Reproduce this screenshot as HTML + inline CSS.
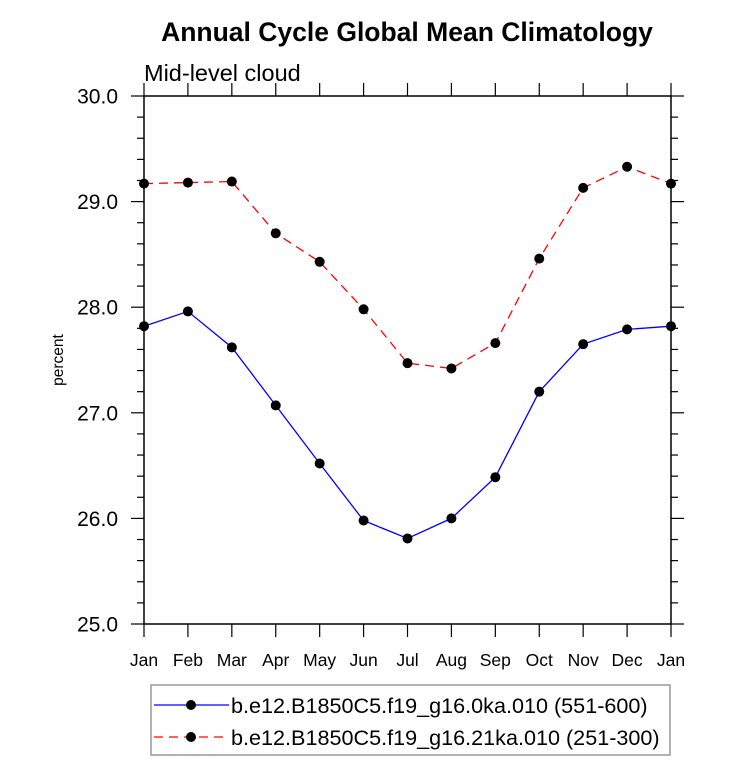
<!DOCTYPE html>
<html><head><meta charset="utf-8"><style>
body{margin:0;background:#fff;}
svg text{font-family:"Liberation Sans",Arial,sans-serif;fill:#000;}
</style></head><body>
<svg id="c" width="733" height="761"></svg>
<script>
const months=["Jan","Feb","Mar","Apr","May","Jun","Jul","Aug","Sep","Oct","Nov","Dec","Jan"];
const blueVals=[27.82,27.96,27.62,27.07,26.52,25.98,25.81,26.00,26.39,27.20,27.65,27.79,27.82];
const redVals=[29.17,29.18,29.19,28.70,28.43,27.98,27.47,27.42,27.66,28.46,29.13,29.33,29.17];
const yTicks=[25,26,27,28,29,30];
const yTickLabels=["25.0","26.0","27.0","28.0","29.0","30.0"];
const names=["b.e12.B1850C5.f19_g16.0ka.010 (551-600)","b.e12.B1850C5.f19_g16.21ka.010 (251-300)"];
const L=144,R=671,T=96,B=624,ymin=25,ymax=30;
const xs=i=>L+(R-L)*i/(months.length-1);
const ys=v=>B-(B-T)*(v-ymin)/(ymax-ymin);
const svg=document.getElementById('c');const NS="http://www.w3.org/2000/svg";
function mk(t,a,p){const e=document.createElementNS(NS,t);for(const k in a)e.setAttribute(k,a[k]);(p||svg).appendChild(e);return e;}
let e;
e=mk('text',{x:407,y:41,'text-anchor':'middle','font-size':26.5,'font-weight':'bold'});e.textContent="Annual Cycle Global Mean Climatology";


e=mk('text',{x:144,y:81,'font-size':23.5});e.textContent="Mid-level cloud";


e=mk('text',{x:0,y:0,'font-size':15.5,'text-anchor':'middle',transform:'translate(63,360) rotate(-90)'});e.textContent="percent";


e=mk('rect',{x:L,y:T,width:R-L,height:B-T,fill:'none',stroke:'#000','stroke-width':1.5});


for(let v=ymin;v<=ymax+1e-9;v+=0.2){const y=ys(v);const major=Math.abs(v-Math.round(v))<1e-6;const len=major?13:7;
mk('line',{x1:L-len,x2:L,y1:y,y2:y,stroke:'#000','stroke-width':1.2});
mk('line',{x1:R,x2:R+len,y1:y,y2:y,stroke:'#000','stroke-width':1.2});}
yTicks.forEach((v,i)=>{e=mk('text',{x:118,y:ys(v)+7.5,'text-anchor':'end','font-size':21});e.textContent=yTickLabels[i];

});
months.forEach((m,i)=>{const x=xs(i);
mk('line',{x1:x,x2:x,y1:B,y2:B+13,stroke:'#000','stroke-width':1.2});
mk('line',{x1:x,x2:x,y1:T-13,y2:T,stroke:'#000','stroke-width':1.2});
e=mk('text',{x:x,y:666,'text-anchor':'middle','font-size':17.5});e.textContent=m;

});
function series(vals,color,dash,name){
e=mk('polyline',{points:vals.map((v,i)=>xs(i)+','+ys(v)).join(' '),fill:'none',stroke:color,'stroke-width':1.3,'stroke-dasharray':dash});


vals.forEach((v,i)=>{e=mk('circle',{cx:xs(i),cy:ys(v),r:5,fill:'#000'});

});}
series(redVals,'#f00','9,6','red-series');
series(blueVals,'#00f','none','blue-series');
const lg=mk('g',{});


mk('rect',{x:151,y:685,width:519,height:70,fill:'none',stroke:'#999','stroke-width':1.5},lg);
[['#00f','none',705],['#f00','9,6',737]].forEach((s,i)=>{
const g=mk('g',{},lg);


mk('line',{x1:154,x2:229,y1:s[2],y2:s[2],stroke:s[0],'stroke-width':1.3,'stroke-dasharray':s[1]},g);
mk('circle',{cx:191,cy:s[2],r:5,fill:'#000'},g);
const t=mk('text',{x:231,y:s[2]+8,'font-size':21.6},g);t.textContent=names[i];});
</script>
</body></html>
